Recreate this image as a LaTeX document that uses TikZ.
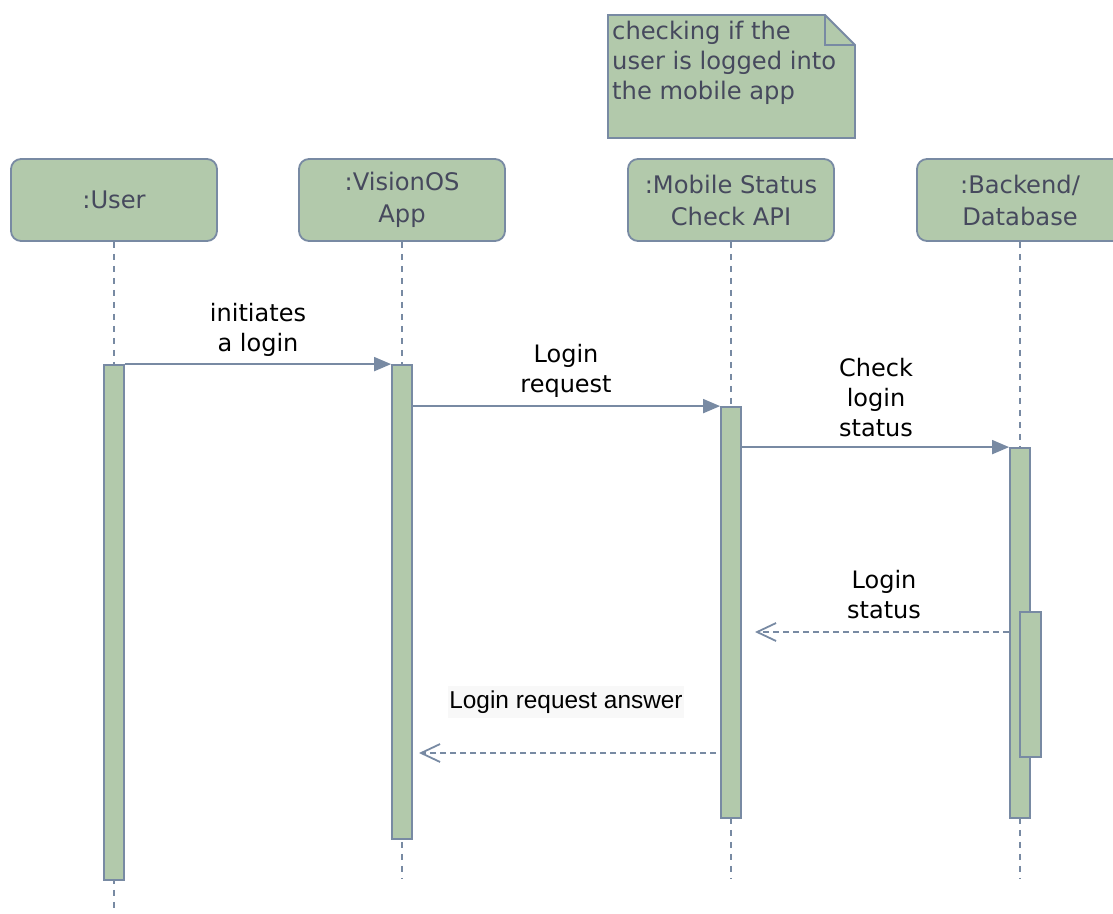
\documentclass[tikz,border=0pt]{standalone}
\usepackage{fontspec}
\setmainfont{DejaVu Sans}
\newfontfamily\arialfont{Liberation Sans}
\usetikzlibrary{arrows.meta}
\definecolor{fillg}{HTML}{B2C9AB}
\definecolor{strk}{HTML}{788AA3}
\definecolor{txtc}{HTML}{46495D}
\definecolor{lblbg}{HTML}{F8F8F8}
\tikzset{
  hdr/.style={draw=strk, fill=fillg, line width=1.8pt, rounded corners=10pt,
    minimum width=206pt, minimum height=82pt, inner sep=0pt, align=center,
    text=txtc, font=\fontsize{24.2}{32}\selectfont},
  bar/.style={draw=strk, fill=fillg, line width=1.8pt, minimum width=20pt, inner sep=0pt},
  life/.style={draw=strk, line width=1.8pt, dash pattern=on 6pt off 6pt},
  sync/.style={draw=strk, line width=1.8pt, -{Triangle[length=17pt,width=14pt]}},
  ret/.style={draw=strk, line width=1.8pt, dash pattern=on 6pt off 4pt,
    -{Straight Barb[length=19pt,width=18pt]}},
  lbl/.style={align=center, text=black, font=\fontsize{24}{30}\selectfont, inner sep=0pt},
  notebox/.style={draw=strk, fill=fillg, line width=1.8pt},
}
\begin{document}
\begin{tikzpicture}[x=1pt,y=-1pt]
\useasboundingbox (0,0) rectangle (1113,913);
\clip (0,0) rectangle (1113,913);

% note
\draw[notebox] (608,15) -- (825,15) -- (855,45) -- (855,138) -- (608,138) -- cycle;
\draw[strk, line width=1.8pt, line join=miter] (825,15) -- (825,45) -- (855,45);
\node[anchor=north west, align=left, text=txtc, inner sep=0pt,
  font=\fontsize{24.2}{30}\selectfont] (note) at (612,21)
  {checking if the\\user is logged into\\the mobile app};

% headers
\node[hdr] (user) at (114,200) {:User};
\node[hdr] (vis) at (402,200) {:VisionOS\\App};
\node[hdr] (mob) at (731,200) {:Mobile Status\\Check API};
\node[hdr] (bak) at (1020,200) {:Backend/\\Database};

% lifeline ends
\coordinate (uend) at (114,913);
\coordinate (vend) at (402,878);
\coordinate (mend) at (731,878);
\coordinate (bend) at (1020,878);
\draw[life] (user.south) -- (uend);
\draw[life] (vis.south) -- (vend);
\draw[life] (mob.south) -- (mend);
\draw[life] (bak.south) -- (bend);

% activation bars
\node[bar, minimum height=515pt] (ua) at (114,622.5) {};
\node[bar, minimum height=474pt] (va) at (402,602) {};
\node[bar, minimum height=411pt] (ma) at (731,612.5) {};
\node[bar, minimum height=370pt] (ba) at (1020,633) {};
\node[bar, minimum width=21pt, minimum height=145pt] (bb) at (1030.5,684.5) {};

% messages
\draw[sync] (ua.north east) -- (va.north west);
\draw[sync] (va.east |- ma.north) -- (ma.north west);
\draw[sync] (ma.east |- ba.north) -- (ba.north west);

\coordinate (r1e) at (755,632);
\draw[ret] (ba.west |- r1e) -- (r1e);
\coordinate (r2s) at (716,753);
\coordinate (r2e) at (419,753);
\draw[ret] (r2s) -- (r2e);

% labels
\node[lbl] (l1) at (258,330) {initiates\\a login};
\node[lbl] (l2) at (566,371) {Login\\request};
\node[lbl] (l3) at (876,398) {Check\\login\\status};
\node[lbl] (l4) at (884,595) {Login\\status};
\node[fill=lblbg, inner xsep=1pt, inner ysep=5pt, text=black,
  font=\arialfont\fontsize{24.4}{28}\selectfont] (l5) at (566,702) {Login request answer};
\end{tikzpicture}
\end{document}
